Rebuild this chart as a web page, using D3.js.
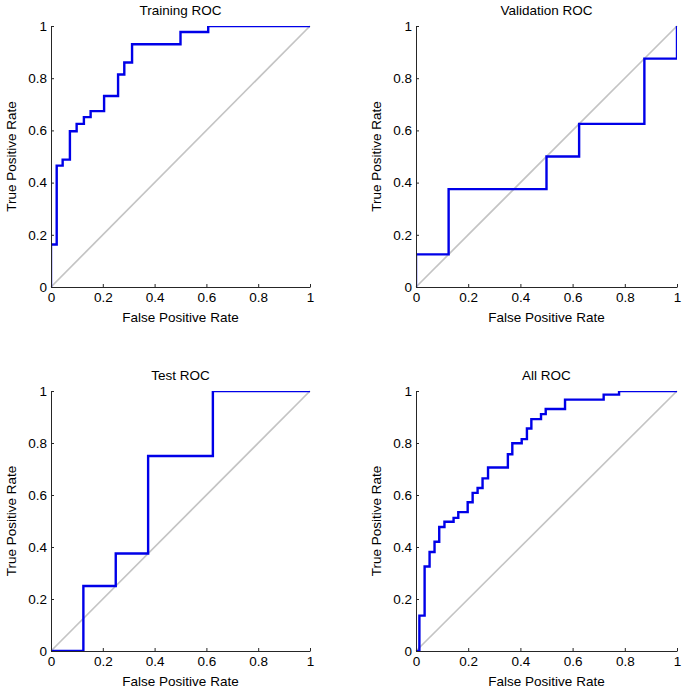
<!DOCTYPE html>
<html>
<head>
<meta charset="utf-8">
<script src="https://cdn.jsdelivr.net/npm/d3@7"></script>
<style>
  body { margin: 0; background: #fff; }
  text { font-family: "Liberation Sans", Arial, Helvetica, sans-serif; fill: #000; }
</style>
</head>
<body>
<svg id="chart" width="685" height="692"></svg>
<script>
// ROC curve vertices: at each fpr the curve rises to the matching tpr
var trainFpr = [0, 0, 0.022, 0.045, 0.073, 0.099, 0.127, 0.153, 0.205, 0.259, 0.283, 0.313, 0.5, 0.607, 1];
var trainTpr = [0, 0.163, 0.465, 0.488, 0.597, 0.625, 0.651, 0.674, 0.732, 0.814, 0.86, 0.93, 0.977, 1, 1];

var valFpr = [0, 0, 0.125, 0.5, 0.625, 0.875, 1];
var valTpr = [0, 0.125, 0.375, 0.5, 0.625, 0.875, 1];

var testFpr = [0, 0.125, 0.25, 0.375, 0.625, 1];
var testTpr = [0, 0.25, 0.375, 0.75, 1, 1];

var allFpr = [0, 0.013, 0.033, 0.052, 0.071, 0.089, 0.109, 0.144, 0.162, 0.198, 0.217, 0.236, 0.255, 0.276,
              0.352, 0.369, 0.405, 0.425, 0.442, 0.479, 0.497, 0.571, 0.719, 0.778, 1];
var allTpr = [0, 0.136, 0.325, 0.381, 0.42, 0.477, 0.497, 0.512, 0.534, 0.572, 0.608, 0.627, 0.664, 0.706,
              0.757, 0.799, 0.815, 0.856, 0.892, 0.911, 0.931, 0.967, 0.986, 1, 1];

var tickVals = [0, 0.2, 0.4, 0.6, 0.8, 1];

var panels = [
  { title: "Training ROC", fpr: trainFpr, tpr: trainTpr, x0: 51, x1: 310, y0: 26, y1: 287 },
  { title: "Validation ROC", fpr: valFpr, tpr: valTpr, x0: 416, x1: 677, y0: 26, y1: 287 },
  { title: "Test ROC", fpr: testFpr, tpr: testTpr, x0: 51, x1: 310, y0: 391, y1: 651 },
  { title: "All ROC", fpr: allFpr, tpr: allTpr, x0: 416, x1: 677, y0: 391, y1: 651 }
];

var svg = d3.select("#chart");
var fmt = d3.format("~g");
var fs = 13.5;

panels.forEach(function(p, i) {
  var x = d3.scaleLinear().domain([0, 1]).range([p.x0, p.x1]);
  var y = d3.scaleLinear().domain([0, 1]).range([p.y1, p.y0]);
  var g = svg.append("g");

  g.append("clipPath").attr("id", "clip" + i)
    .append("rect")
    .attr("x", p.x0).attr("y", p.y0)
    .attr("width", p.x1 - p.x0).attr("height", p.y1 - p.y0);

  // chance diagonal
  g.append("line")
    .attr("x1", x(0)).attr("y1", y(0))
    .attr("x2", x(1)).attr("y2", y(1))
    .attr("stroke", "#c4c4c4")
    .attr("stroke-width", 1.7);

  var pts = p.fpr.map(function(f, k) { return [f, p.tpr[k]]; });
  var line = d3.line()
    .x(function(d) { return x(d[0]); })
    .y(function(d) { return y(d[1]); })
    .curve(d3.curveStepAfter);

  g.append("path")
    .datum(pts)
    .attr("d", line)
    .attr("clip-path", "url(#clip" + i + ")")
    .attr("fill", "none")
    .attr("stroke", "#0000e8")
    .attr("stroke-width", 2.4);

  var xAxis = d3.axisBottom(x).tickValues(tickVals).tickFormat(fmt)
    .tickSizeInner(-3).tickSizeOuter(0).tickPadding(5);
  var yAxis = d3.axisLeft(y).tickValues(tickVals).tickFormat(fmt)
    .tickSizeInner(-3).tickSizeOuter(0).tickPadding(4);

  var gx = g.append("g").attr("transform", "translate(0," + p.y1 + ")").call(xAxis);
  var gy = g.append("g").attr("transform", "translate(" + p.x0 + ",0)").call(yAxis);
  [gx, gy].forEach(function(a) {
    a.select(".domain").attr("stroke", "#262626");
    a.selectAll(".tick line").attr("stroke", "#262626");
    a.selectAll(".tick text").attr("font-size", fs).attr("font-family", null).style("fill", "#000");
  });

  g.append("text")
    .attr("x", (p.x0 + p.x1) / 2).attr("y", p.y0 - 11)
    .attr("text-anchor", "middle").attr("font-size", fs)
    .text(p.title);

  g.append("text")
    .attr("x", (p.x0 + p.x1) / 2).attr("y", p.y1 + 35)
    .attr("text-anchor", "middle").attr("font-size", fs)
    .text("False Positive Rate");

  g.append("text")
    .attr("transform", "translate(" + (p.x0 - 35) + "," + ((p.y0 + p.y1) / 2) + ") rotate(-90)")
    .attr("text-anchor", "middle").attr("font-size", fs)
    .text("True Positive Rate");
});
</script>
</body>
</html>
